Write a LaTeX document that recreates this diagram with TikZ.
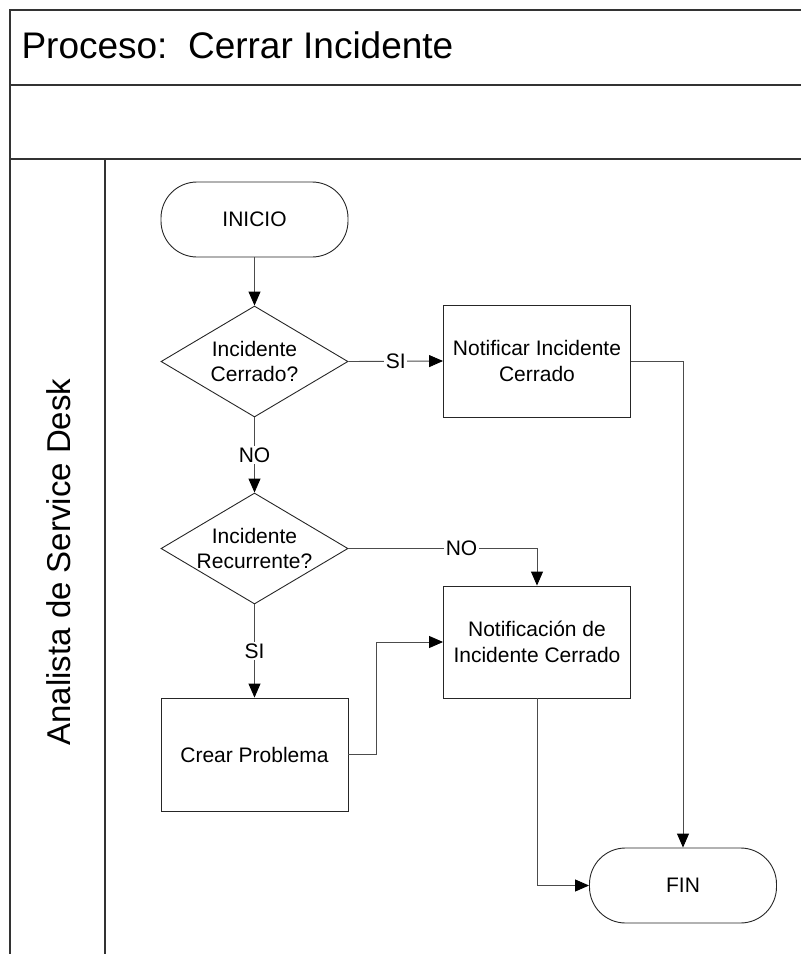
\documentclass[tikz,border=0pt]{standalone}
\usepackage{fontspec}
\setmainfont{Liberation Sans}
\usetikzlibrary{shapes.geometric,arrows.meta}

\begin{document}
\begin{tikzpicture}[x=1pt,y=-1pt,
  every node/.style={font=\fontsize{21}{25.5}\selectfont, align=center},
  frameline/.style={draw=black!80, line width=1.2pt},
  shapeline/.style={draw=black!85, line width=0.9pt},
  terminal/.style={shapeline, rectangle, rounded corners=36pt,
    minimum width=187pt, minimum height=75pt, inner sep=0pt},
  process/.style={shapeline, rectangle,
    minimum width=187pt, minimum height=112pt, inner sep=0pt},
  decision/.style={shapeline, diamond, minimum width=187pt,
    minimum height=111pt, inner sep=0pt, aspect=1.68},
  flow/.style={draw=black!70, line width=0.9pt,
    -{Triangle[length=14pt,width=12pt,color=black]}},
  flowlabel/.style={fill=white, inner sep=1.5pt}
]
% page extent
\useasboundingbox (0,0) rectangle (801,954);

% pool frame and lane
\draw[frameline] (10,954) -- (10,10) -- (801,10);
\draw[frameline] (10,85) -- (801,85);
\draw[frameline] (10,159) -- (801,159);
\draw[frameline] (105,159) -- (105,954);

\node[anchor=base west, font=\fontsize{37}{44}\selectfont] (title) at (18,58) {Proceso:\ \ Cerrar Incidente};
\node[rotate=90, anchor=base, font=\fontsize{33}{40}\selectfont] (lane) at (70,562) {Analista de Service Desk};

% flow shapes
\node[terminal] (inicio) at (254.5,219.5) {INICIO};
\node[decision, label={[align=center]center:Incidente\\Cerrado?}] (d1) at (254.5,361.5) {};
\node[process] (notif1) at (537,361) {Notificar Incidente\\Cerrado};
\node[decision, label={[align=center]center:Incidente\\Recurrente?}] (d2) at (254.5,548.5) {};
\node[process] (notif2) at (537,642) {Notificación de\\Incidente Cerrado};
\node[process, minimum height=113pt] (crear) at (254.5,754.5) {Crear Problema};
\node[terminal] (fin) at (683,885.5) {FIN};

\coordinate (bend) at (376,754.5);

% connectors
\draw[flow] (inicio) -- (d1);
\draw[flow] (d1.east) -- node[flowlabel] (lsi1) {SI} (notif1.west);
\draw[flow] (d1.south) -- node[flowlabel] (lno1) {NO} (d2.north);
\draw[flow] (d2.east) -| node[flowlabel, pos=0.3] (lno2) {NO} (notif2.north);
\draw[flow] (d2.south) -- node[flowlabel] (lsi2) {SI} (crear.north);
\draw[flow] (crear.east) -- (bend) |- (notif2.west);
\draw[flow] (notif1.east) -| (fin.north);
\draw[flow] (notif2.south) |- (fin.west);
\end{tikzpicture}
\end{document}
